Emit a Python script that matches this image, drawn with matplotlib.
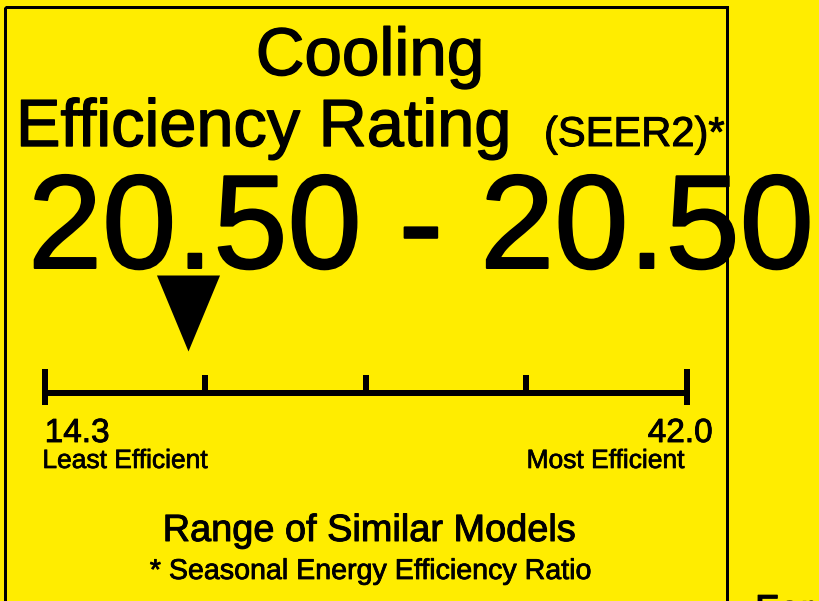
import numpy as np
import matplotlib
matplotlib.use('Agg')
import matplotlib.pyplot as plt
import matplotlib.patheffects as pe
from matplotlib.patches import Rectangle

plt.rcParams['font.family'] = ['Liberation Sans', 'DejaVu Sans']

# label data
title_lines = ['Cooling', 'Efficiency Rating']
title_unit = '(SEER2)*'
rating_low = 20.50
rating_high = 20.50
range_min = 14.3
range_max = 42.0
end_labels = ['Least Efficient', 'Most Efficient']
range_caption = 'Range of Similar Models'
footnote = '* Seasonal Energy Efficiency Ratio'
n_sections = 4

yellow = '#FFED00'
W, H = 819, 601
px = 72 / 100  # points per pixel at dpi 100


def heavy(w):
    # thicken glyphs a little, the label's typeface is heavier than regular
    return [pe.withStroke(linewidth=w * px, foreground='black')]


fig = plt.figure(figsize=(W / 100, H / 100), dpi=100)
fig.patch.set_facecolor(yellow)

# background axes in pixel coordinates (y down)
bg = fig.add_axes([0, 0, 1, 1])
bg.set_xlim(0, W)
bg.set_ylim(H, 0)
bg.axis('off')

bg.add_patch(Rectangle((5, 7), 722, 700, fill=False, ec='black', lw=3 * px, clip_on=False))

bg.text(370, 75, title_lines[0], fontsize=48.5, ha='center', va='baseline',
        path_effects=heavy(1.4))
bg.text(16, 146, title_lines[1], fontsize=48, ha='left', va='baseline',
        path_effects=heavy(1.4))
bg.text(544, 146, title_unit, fontsize=30, ha='left', va='baseline',
        path_effects=heavy(1.0))
bg.text(28, 268, f'{rating_low:.2f} - {rating_high:.2f}', fontsize=96,
        ha='left', va='baseline', path_effects=heavy(2.0))

bg.text(369, 541, range_caption, fontsize=27.3, ha='center', va='baseline',
        path_effects=heavy(1.0))
bg.text(371, 579, footnote, fontsize=20.6, ha='center', va='baseline',
        path_effects=heavy(0.8))
bg.text(755, 622, 'For', fontsize=28, ha='left', va='baseline', clip_on=False,
        path_effects=heavy(1.2))

# scale axes: x in rating units, y in pixels
x0, x1 = 44.7, 687
y_top, y_bot = 260, 480
ax = fig.add_axes([x0 / W, 1 - y_bot / H, (x1 - x0) / W, (y_bot - y_top) / H])
ax.set_xlim(range_min, range_max)
ax.set_ylim(y_bot, y_top)
ax.axis('off')
ax.patch.set_alpha(0)

lw_scale = 6 * px
ax.plot([range_min, range_max], [393, 393], color='black', lw=lw_scale,
        solid_capstyle='butt', clip_on=False)
ax.vlines([range_min, range_max], 369, 405, color='black', lw=lw_scale, clip_on=False)
ticks = np.linspace(range_min, range_max, n_sections + 1)[1:-1]
ax.vlines(ticks, 375, 391, color='black', lw=lw_scale, clip_on=False)

tri = [(0, -1), (-0.83, 1), (0.83, 1)]
ax.plot([rating_low], [313], marker=tri, markersize=76 * px, color='black',
        markeredgewidth=0, clip_on=False)

ax.text(range_min, 442, f'{range_min:.1f}', fontsize=24, ha='left', va='baseline',
        path_effects=heavy(0.9))
ax.text(range_min - 0.1, 468, end_labels[0], fontsize=19, ha='left', va='baseline',
        path_effects=heavy(0.7))
ax.text(range_max + 1.1, 442, f'{range_max:.1f}', fontsize=24, ha='right', va='baseline',
        path_effects=heavy(0.9))
ax.text(range_max - 0.1, 468, end_labels[1], fontsize=19, ha='right', va='baseline',
        path_effects=heavy(0.7))

fig.savefig('out.png', dpi=100, facecolor=yellow)
